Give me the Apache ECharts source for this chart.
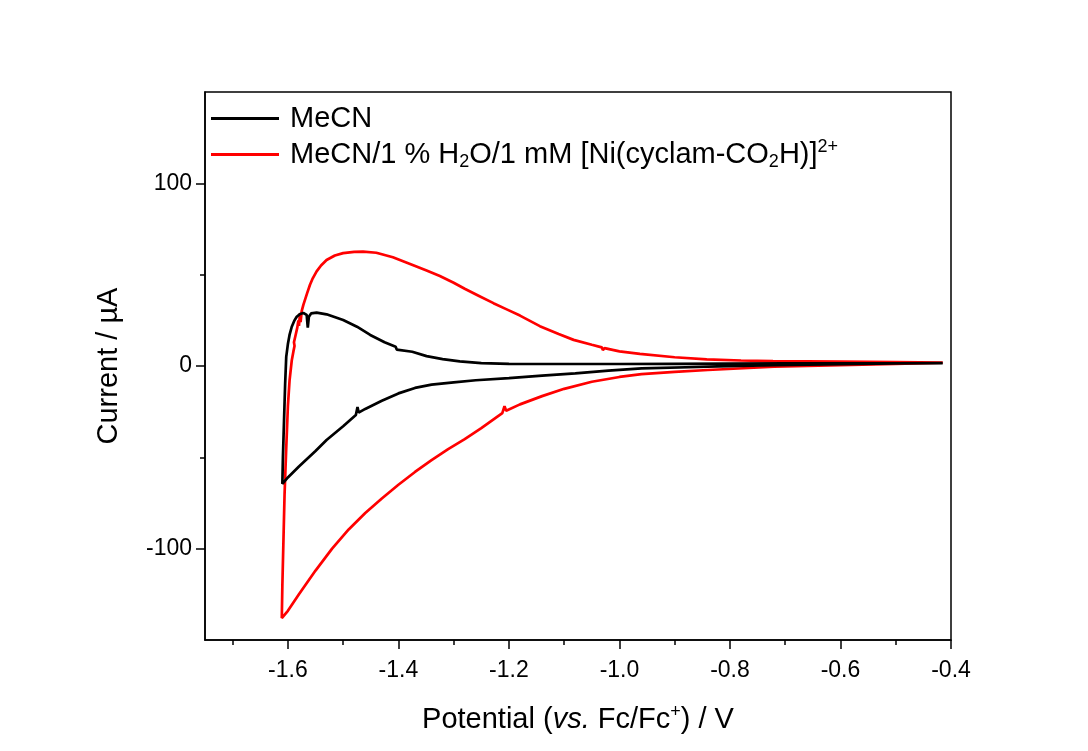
<!DOCTYPE html>
<html>
<head>
<meta charset="utf-8">
<title>Cyclic voltammograms</title>
<script src="https://cdn.jsdelivr.net/npm/echarts@6/dist/echarts.min.js"></script>
<style>
  html, body { margin: 0; padding: 0; background: #ffffff; }
  #chart { width: 1088px; height: 751px; }
</style>
</head>
<body>
<div id="chart"></div>
<script>
// Scan in MeCN (potential in V vs Fc/Fc+, current in µA), cathodic sweep then return
const blackPotential = [
  -0.415, -0.50, -0.60, -0.72, -0.84, -0.96, -1.02, -1.08, -1.14, -1.20,
  -1.26, -1.30, -1.34, -1.37, -1.40, -1.43, -1.46, -1.472, -1.474, -1.477,
  -1.50, -1.53, -1.55, -1.58, -1.60, -1.610,
  -1.609, -1.607, -1.605, -1.603, -1.600, -1.597, -1.593, -1.588, -1.584, -1.578,
  -1.572, -1.566, -1.564, -1.562, -1.558, -1.548, -1.53, -1.50, -1.475, -1.451,
  -1.425, -1.405, -1.403, -1.400, -1.375, -1.349, -1.32, -1.289, -1.25, -1.20,
  -1.10, -1.00, -0.90, -0.80, -0.70, -0.60, -0.50, -0.415
];
const blackCurrent = [
  1.5, 1.4, 1.0, 0.5, -0.4, -1.3, -2.5, -4.0, -5.3, -6.6,
  -7.8, -9.0, -10.2, -12.0, -15.0, -19.0, -23.5, -25.5, -22.5, -26.8,
  -33.0, -40.5, -46.5, -55.0, -61.0, -64.5,
  -50.0, -30.0, -10.0, 5.0, 12.0, 17.0, 21.5, 25.0, 27.0, 28.5,
  29.0, 28.0, 21.0, 27.0, 28.8, 29.2, 28.3, 25.2, 21.5, 17.0,
  13.0, 10.5, 9.0, 10.0, 7.8, 5.4, 3.8, 2.5, 1.6, 1.2,
  1.1, 1.1, 1.2, 1.3, 1.4, 1.5, 1.5, 1.6
];

// Scan in MeCN / 1 % H2O with 1 mM [Ni(cyclam-CO2H)]2+
const redPotential = [
  -0.415, -0.50, -0.60, -0.72, -0.84, -0.90, -0.96, -1.00, -1.05, -1.10,
  -1.14, -1.18, -1.205, -1.208, -1.212, -1.25, -1.28, -1.31, -1.34, -1.37,
  -1.40, -1.43, -1.46, -1.49, -1.52, -1.55, -1.58, -1.60, -1.611,
  -1.610, -1.608, -1.606, -1.603, -1.600, -1.597, -1.593, -1.590, -1.588, -1.589,
  -1.586, -1.583, -1.581, -1.580, -1.578, -1.577, -1.575, -1.572, -1.565, -1.560,
  -1.555, -1.548, -1.540, -1.530, -1.515, -1.50, -1.48, -1.464, -1.44, -1.41,
  -1.38, -1.349, -1.325, -1.30, -1.28, -1.255, -1.228, -1.204, -1.18, -1.144,
  -1.11, -1.083, -1.05, -1.032, -1.030, -1.027, -1.00, -0.963, -0.90, -0.842,
  -0.78, -0.722, -0.60, -0.50, -0.415
];
const redCurrent = [
  1.8, 1.2, 0.5, -0.4, -2.2, -3.2, -4.4, -6.0, -8.6, -12.5,
  -16.5, -21.0, -24.5, -22.0, -25.8, -34.0, -40.0, -45.5, -51.5, -58.0,
  -65.0, -72.5, -80.5, -89.5, -100.0, -112.0, -125.0, -134.0, -138.0,
  -120.0, -95.0, -70.0, -45.0, -22.0, -8.0, 3.0, 8.0, 11.0, 13.0,
  17.0, 21.0, 25.0, 22.0, 29.0, 24.0, 30.0, 33.5, 40.0, 44.5,
  48.0, 51.8, 55.0, 58.0, 60.5, 61.8, 62.5, 62.6, 62.0, 59.5,
  56.0, 52.3, 49.3, 45.6, 42.3, 38.5, 34.4, 31.0, 27.6, 21.8,
  17.5, 14.3, 11.6, 10.2, 8.7, 9.8, 8.0, 6.6, 4.8, 3.6,
  3.0, 2.7, 2.4, 2.1, 1.8
];

// Axis tick positions and labels
const xLabelValues = [-1.6, -1.4, -1.2, -1.0, -0.8, -0.6, -0.4];
const xMinorValues = [-1.7, -1.5, -1.3, -1.1, -0.9, -0.7, -0.5];
const yLabelValues = [-100, 0, 100];
const yMinorValues = [-50, 50];

const seriesNames = ['MeCN', 'MeCN/1 % H2O/1 mM [Ni(cyclam-CO2H)]2+'];
const legendRich = {
  'MeCN': '{n|MeCN}',
  'MeCN/1 % H2O/1 mM [Ni(cyclam-CO2H)]2+':
    '{n|MeCN/1 % H}{sub|2}{n|O/1 mM [Ni(cyclam-CO}{sub|2}{n|H)]}{sup|2+}'
};

const zip = (xs, ys) => xs.map((x, i) => [x, ys[i]]);

const FONT = '"Liberation Sans", Arial, Helvetica, sans-serif';
const TITLE_SIZE = 29;
const LINE_WIDTH = 2.7;
const chart = echarts.init(document.getElementById('chart'), null, { renderer: 'canvas' });

const baseX = {
  type: 'value', min: -1.75, max: -0.4, gridIndex: 0,
  splitLine: { show: false }
};
const baseY = {
  type: 'value', min: -150, max: 150, gridIndex: 0,
  splitLine: { show: false }
};

chart.setOption({
  animation: false,
  backgroundColor: '#ffffff',
  grid: {
    left: 205, right: 137, top: 92, bottom: 111,
    show: true, borderColor: '#000000', borderWidth: 1.5, backgroundColor: 'transparent'
  },
  legend: {
    orient: 'vertical',
    left: 211, top: 104, padding: 0,
    icon: 'rect',
    itemWidth: 68, itemHeight: 3, itemGap: 5,
    data: seriesNames,
    formatter: name => legendRich[name],
    textStyle: {
      fontFamily: FONT, fontSize: TITLE_SIZE, color: '#000000', padding: [0, 0, 0, 6],
      rich: {
        n: { fontFamily: FONT, fontSize: TITLE_SIZE, color: '#000000' },
        sub: { fontFamily: FONT, fontSize: 18, color: '#000000', padding: [15, 0, 0, 0] },
        sup: { fontFamily: FONT, fontSize: 18, color: '#000000', padding: [0, 0, 15, 0] }
      }
    }
  },
  xAxis: [
    Object.assign({}, baseX, {
      position: 'bottom',
      name: '{n|Potential (}{i|vs.}{n| Fc/Fc}{sup|+}{n|) / V}',
      nameLocation: 'middle', nameGap: 63,
      nameTextStyle: {
        fontFamily: FONT, fontSize: TITLE_SIZE, color: '#000000',
        rich: {
          n: { fontFamily: FONT, fontSize: TITLE_SIZE, color: '#000000' },
          i: { fontFamily: FONT, fontSize: TITLE_SIZE, fontStyle: 'italic', color: '#000000' },
          sup: { fontFamily: FONT, fontSize: 18, color: '#000000', padding: [0, 0, 15, 0] }
        }
      },
      axisLine: { show: true, onZero: false, lineStyle: { color: '#000000', width: 1.5 } },
      axisTick: { show: true, inside: false, length: 9, customValues: xLabelValues,
                  lineStyle: { color: '#000000', width: 1.5 } },
      axisLabel: { show: true, customValues: xLabelValues, margin: 19,
                   fontFamily: FONT, fontSize: 23, color: '#000000',
                   formatter: v => v.toFixed(1) }
    }),
    Object.assign({}, baseX, {
      position: 'bottom',
      axisLine: { show: false, onZero: false },
      axisTick: { show: true, inside: false, length: 5, customValues: xMinorValues,
                  lineStyle: { color: '#000000', width: 1.5 } },
      axisLabel: { show: false }
    })
  ],
  yAxis: [
    Object.assign({}, baseY, {
      position: 'left',
      name: 'Current / µA',
      nameLocation: 'middle', nameGap: 82,
      nameTextStyle: { fontFamily: FONT, fontSize: TITLE_SIZE, color: '#000000' },
      axisLine: { show: true, onZero: false, lineStyle: { color: '#000000', width: 1.5 } },
      axisTick: { show: true, inside: false, length: 9, customValues: yLabelValues,
                  lineStyle: { color: '#000000', width: 1.5 } },
      axisLabel: { show: true, customValues: yLabelValues, margin: 13,
                   fontFamily: FONT, fontSize: 23, color: '#000000',
                   formatter: v => String(v) }
    }),
    Object.assign({}, baseY, {
      position: 'left',
      axisLine: { show: false, onZero: false },
      axisTick: { show: true, inside: false, length: 5, customValues: yMinorValues,
                  lineStyle: { color: '#000000', width: 1.5 } },
      axisLabel: { show: false }
    })
  ],
  series: [
    {
      name: seriesNames[0], type: 'line', xAxisIndex: 0, yAxisIndex: 0,
      data: zip(blackPotential, blackCurrent),
      showSymbol: false, symbol: 'none', smooth: false, clip: true,
      lineStyle: { color: '#000000', width: LINE_WIDTH }, itemStyle: { color: '#000000' },
      z: 3
    },
    {
      name: seriesNames[1], type: 'line', xAxisIndex: 0, yAxisIndex: 0,
      data: zip(redPotential, redCurrent),
      showSymbol: false, symbol: 'none', smooth: false, clip: true,
      lineStyle: { color: '#ff0000', width: LINE_WIDTH }, itemStyle: { color: '#ff0000' },
      z: 2
    }
  ]
});
</script>
</body>
</html>
